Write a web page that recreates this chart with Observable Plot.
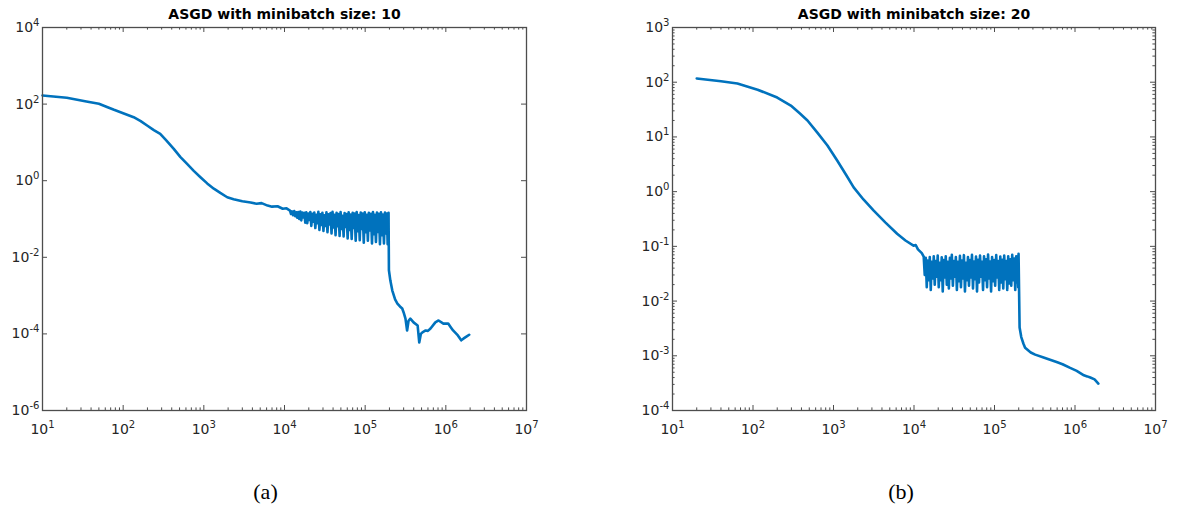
<!DOCTYPE html>
<html><head><meta charset="utf-8">
<script src="https://cdn.jsdelivr.net/npm/d3@7"></script>
<script src="https://cdn.jsdelivr.net/npm/@observablehq/plot@0.6"></script>
<style>
html,body{margin:0;padding:0;background:#fff;}
#root{position:relative;width:1179px;height:508px;overflow:hidden;background:#fff;}
#root svg{position:absolute;top:0;}
</style></head><body><div id="root"></div>
<script>
// ---------- data ----------
const titleA = "ASGD with minibatch size: 10";
const titleB = "ASGD with minibatch size: 20";
const captionA = "(a)";
const captionB = "(b)";

const xTicks = [1e1, 1e2, 1e3, 1e4, 1e5, 1e6, 1e7];
const xTickLabels = ["10^1", "10^2", "10^3", "10^4", "10^5", "10^6", "10^7"];
const yTicksA = [1e-6, 1e-4, 1e-2, 1e0, 1e2, 1e4];
const yTickLabelsA = ["10^-6", "10^-4", "10^-2", "10^0", "10^2", "10^4"];
const yTicksB = [1e-4, 1e-3, 1e-2, 1e-1, 1e0, 1e1, 1e2, 1e3];
const yTickLabelsB = ["10^-4", "10^-3", "10^-2", "10^-1", "10^0", "10^1", "10^2", "10^3"];

// panel (a): [iteration, value]
const smoothA = [[10,168],[20,146],[35,117],[50,102],[63,84],[77,71],[100,58],[135,45.5],[165,36],[198,27.6],[240,21],[288,16.8],[340,11.5],[424,6.8],[510,4.2],[620,2.75],[750,1.8],[908,1.23],[1100,0.85],[1330,0.62],[1600,0.48],[1950,0.37],[2340,0.33],[3000,0.29],[3800,0.27],[4500,0.25],[5200,0.26],[6170,0.224],[7000,0.21],[8200,0.215],[9500,0.185],[10600,0.19]];
const noisyA = [[11700,.166],[12050,.135],[12400,.158],[12800,.125],[13200,.162],[13600,.118],[14000,.150],[14400,.108],[14800,.152],[15250,.100],[15700,.157],[16150,.092],[16600,.148],[17100,.110],[17600,.145],[18100,.080],[18600,.150],[19150,.078],[19700,.138],[20300,.095],[20900,.152],[21500,.066],[22100,.136],[22750,.085],[23400,.147],[24100,.058],[24800,.128],[25550,.078],[26300,.155],[27100,.052],[27900,.132],[28700,.070],[29500,.146],[30400,.049],[31300,.125],[32200,.066],[33100,.150],[34100,.045],[35100,.132],[36150,.072],[37200,.142],[38300,.042],[39400,.155],[40550,.060],[41700,.128],[42950,.038],[44200,.146],[45500,.065],[46800,.135],[48200,.036],[49600,.152],[51050,.055],[52500,.122],[54050,.035],[55600,.144],[57250,.062],[58900,.135],[60650,.031],[62400,.150],[64250,.052],[66100,.130],[68050,.030],[70000,.146],[72050,.058],[74100,.138],[76300,.027],[78500,.152],[80850,.048],[83200,.126],[85650,.028],[88100,.147],[90700,.055],[93300,.138],[96100,.024],[98900,.150],[101900,.045],[105000,.128],[108000,.027],[111000,.146],[114500,.050],[118000,.136],[121500,.023],[125000,.152],[128500,.040],[132000,.128],[136000,.025],[140000,.148],[144000,.046],[148000,.136],[152500,.022],[157000,.150],[161500,.038],[166000,.130],[171000,.023],[176000,.147],[181000,.042],[186000,.138],[190000,.022],[195000,.145]];
const tailA = [[197000,0.0046],[205000,0.0025],[217000,0.00135],[235000,0.0008],[251000,0.00062],[270000,0.00052],[288000,0.00046],[303000,0.00034],[316000,0.00025],[331000,0.000123],[345000,0.00022],[363000,0.00025],[398000,0.0002],[447000,0.000166],[468000,0.00006],[490000,0.0001],[513000,0.00011],[562000,0.000123],[600000,0.00012],[646000,0.000138],[741000,0.0002],[813000,0.000224],[933000,0.000186],[1070000,0.000186],[1150000,0.00015],[1230000,0.000123],[1410000,0.000091],[1550000,0.000068],[1650000,0.000075],[1740000,0.000081],[1950000,0.000095]];

// panel (b)
const smoothB = [[20,117],[40,104],[64,94.6],[114,73],[200,52.5],[295,37.4],[380,27],[475,20],[630,12],[841,6.97],[1111,3.71],[1450,1.97],[1780,1.2],[2355,0.72],[3160,0.45],[4430,0.272],[6170,0.17],[7830,0.128],[9860,0.103],[10500,0.106],[11200,0.088],[12500,0.075]];
const noisyB = [[13200,.065],[13600,.030],[14000,.062],[14400,.018],[14800,.055],[15250,.024],[15700,.064],[16150,.016],[16600,.052],[17100,.026],[17600,.066],[18100,.020],[18600,.054],[19150,.028],[19700,.068],[20300,.018],[20900,.050],[21500,.024],[22100,.063],[22750,.015],[23400,.056],[24100,.027],[24800,.066],[25550,.020],[26300,.052],[27100,.017],[27900,.062],[28700,.026],[29500,.070],[30400,.019],[31300,.054],[32200,.028],[33100,.064],[34100,.016],[35100,.052],[36150,.023],[37200,.067],[38300,.018],[39400,.055],[40550,.026],[41700,.069],[42950,.015],[44200,.050],[45500,.024],[46800,.064],[48200,.019],[49600,.056],[51050,.027],[52500,.070],[54050,.017],[55600,.053],[57250,.025],[58900,.065],[60650,.015],[62400,.057],[64250,.022],[66100,.068],[68050,.028],[70000,.052],[72050,.016],[74100,.066],[76300,.024],[78500,.058],[80850,.018],[83200,.071],[85650,.026],[88100,.053],[90700,.015],[93300,.064],[96100,.023],[98900,.056],[101900,.019],[105000,.069],[108000,.027],[111000,.054],[114500,.016],[118000,.065],[121500,.022],[125000,.057],[128500,.017],[132000,.068],[136000,.025],[140000,.054],[144000,.016],[148000,.066],[152500,.021],[157000,.058],[161500,.019],[166000,.070],[171000,.024],[176000,.060],[181000,.016],[186000,.066],[190000,.022],[194000,.061],[197000,.018],[199000,.073]];
const tailB = [[205000,0.0033],[215000,0.0022],[229000,0.00166],[240000,0.0014],[282000,0.00115],[320000,0.00105],[407000,0.00093],[500000,0.00084],[603000,0.00076],[700000,0.0007],[871000,0.0006],[1050000,0.00053],[1290000,0.00044],[1420000,0.00042],[1550000,0.0004],[1750000,0.00037],[1950000,0.00031]];

// ---------- drawing ----------
const BLUE = "#0072BD", AX = "#4d4d4d", TXT = "#262626";
const H = 508, MT = 27, MB = 98;
const IH = H - MT - MB;

function minorTicks(lo, hi) { // 2..9 x 10^k for decades lo..hi-1
  const out = [];
  for (let k = lo; k < hi; k++) for (let m = 2; m <= 9; m++) out.push(m * Math.pow(10, k));
  return out;
}

function panel({series, yDomain, yTicks, yLabels, yMinor, width, marginLeft, marginRight, title, caption, capDx}) {
  const IW = width - marginLeft - marginRight;
  const xMinor = minorTicks(1, 7);
  const fmtX = d => xTickLabels[xTicks.indexOf(d)];
  const fmtY = d => yLabels[yTicks.indexOf(d)];
  const maj = 5, mnr = 2.6;
  const tk = {stroke: AX, strokeWidth: 1};
  const marks = [
    Plot.tickX(xTicks, {x: d => d, insetTop: IH - maj, ...tk}),
    Plot.tickX(xTicks, {x: d => d, insetBottom: IH - maj, ...tk}),
    Plot.tickX(xMinor, {x: d => d, insetTop: IH - mnr, ...tk}),
    Plot.tickX(xMinor, {x: d => d, insetBottom: IH - mnr, ...tk}),
    Plot.tickY(yTicks, {y: d => d, insetRight: IW - maj, ...tk}),
    Plot.tickY(yTicks, {y: d => d, insetLeft: IW - maj, ...tk}),
  ];
  if (yMinor.length) {
    marks.push(Plot.tickY(yMinor, {y: d => d, insetRight: IW - mnr, ...tk}));
    marks.push(Plot.tickY(yMinor, {y: d => d, insetLeft: IW - mnr, ...tk}));
  }
  marks.push(
    Plot.line(series, {x: d => d[0], y: d => d[1], stroke: BLUE, strokeWidth: 2.6, strokeLinejoin: "round", strokeLinecap: "round"}),
    Plot.frame({stroke: AX, strokeWidth: 1.3}),
    Plot.axisX({ticks: xTicks, tickFormat: fmtX, tickSize: 0, tickPadding: 14, fontSize: 14, fontFamily: "DejaVu Sans", fill: TXT}),
    Plot.axisY({ticks: yTicks, tickFormat: fmtY, tickSize: 0, tickPadding: 3, fontSize: 14, fontFamily: "DejaVu Sans", fill: TXT}),
    Plot.text([title], {text: d => d, frameAnchor: "top", lineAnchor: "bottom", dy: -9, fontSize: 14, fontWeight: "bold", fontFamily: "DejaVu Sans", fill: "#000"}),
    Plot.text([caption], {text: d => d, frameAnchor: "bottom", lineAnchor: "bottom", dy: 88, dx: capDx, fontSize: 22, fontFamily: "Liberation Serif", fill: "#000"})
  );
  const svg = Plot.plot({
    width, height: H, marginTop: MT, marginBottom: MB, marginLeft, marginRight,
    x: {type: "log", domain: [1e1, 1e7], axis: null},
    y: {type: "log", domain: yDomain, axis: null},
    style: {background: "transparent", overflow: "visible"},
    marks
  });
  // superscript exponents
  const ns = "http://www.w3.org/2000/svg";
  svg.querySelectorAll("text").forEach(t => {
    const s = t.textContent;
    if (!s.includes("^")) return;
    const [b, e] = s.split("^");
    t.textContent = "";
    const t1 = document.createElementNS(ns, "tspan"); t1.textContent = b;
    const t2 = document.createElementNS(ns, "tspan"); t2.textContent = e;
    t2.setAttribute("dy", "-0.6em"); t2.setAttribute("font-size", "0.72em");
    t.append(t1, t2);
  });
  return svg;
}

const root = document.getElementById("root");
const a = panel({series: [...smoothA, ...noisyA, ...tailA], yDomain: [1e-6, 1e4], yTicks: yTicksA, yLabels: yTickLabelsA, yMinor: [],
  width: 590, marginLeft: 42, marginRight: 64, title: titleA, caption: captionA, capDx: -19});
a.style.left = "0px";
const b = panel({series: [...smoothB, ...noisyB, ...tailB], yDomain: [1e-4, 1e3], yTicks: yTicksB, yLabels: yTickLabelsB, yMinor: minorTicks(-4, 3),
  width: 549, marginLeft: 42, marginRight: 24, title: titleB, caption: captionB, capDx: -13});
b.style.left = "630px";
root.append(a, b);
</script></body></html>
